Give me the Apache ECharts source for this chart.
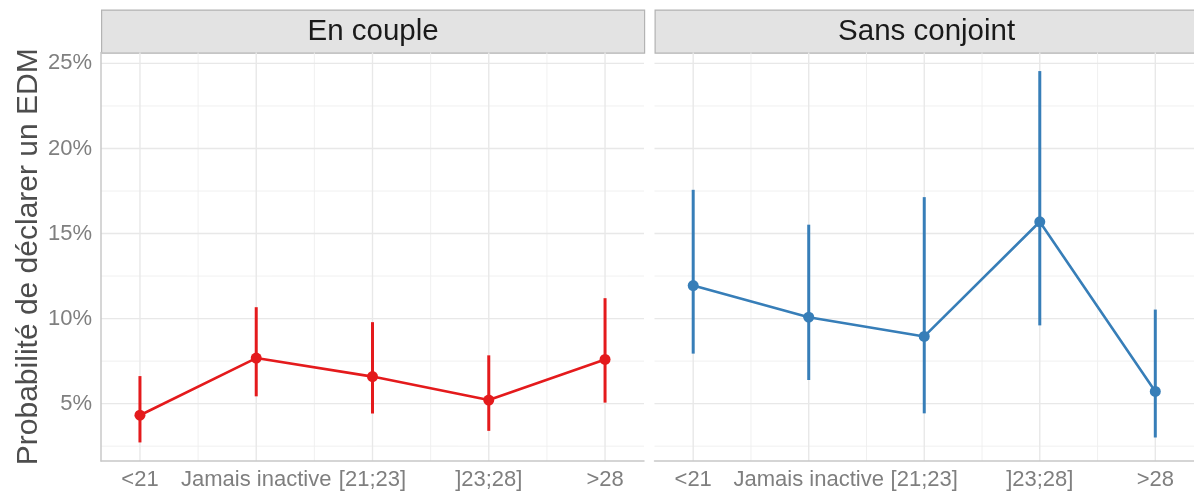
<!DOCTYPE html>
<html>
<head>
<meta charset="utf-8">
<script src="https://cdn.jsdelivr.net/npm/echarts@6/dist/echarts.min.js"></script>
<style>
  html, body { margin: 0; padding: 0; background: #ffffff; }
  #chart { width: 1194px; height: 494px; }
</style>
</head>
<body>
<div id="chart"></div>
<script>
// Categories (x axis) and facet names
const categories = ['<21', 'Jamais inactive', '[21;23]', ']23;28]', '>28'];
const panels = ['En couple', 'Sans conjoint'];

// Estimated probability (%) with its confidence interval, "En couple"
const coupleEst  = [4.32, 7.68, 6.59, 5.21, 7.60];
const coupleLow  = [2.72, 5.43, 4.42, 3.40, 5.06];
const coupleHigh = [6.62, 10.67, 9.79, 7.84, 11.20];

// Same for "Sans conjoint"
const singleEst  = [11.94, 10.08, 8.95, 15.69, 5.72];
const singleLow  = [7.94, 6.39, 4.43, 9.60, 3.01];
const singleHigh = [17.57, 15.52, 17.14, 24.55, 10.53];

// Axis ticks
const yTicks = [5, 10, 15, 20, 25];
const yMinorTicks = [2.5, 7.5, 12.5, 17.5, 22.5];

const colors = ['#E41A1C', '#377EB8'];
const FONT = "'Liberation Sans', Arial, sans-serif";

// Shared y scale with a 5% padding around the whole data range
const allVals = coupleLow.concat(coupleHigh, singleLow, singleHigh);
const dMin = Math.min.apply(null, allVals), dMax = Math.max.apply(null, allVals);
const pad = (dMax - dMin) * 0.05;
const yMin = dMin - pad, yMax = dMax + pad;

// Discrete x positions 1..n with a little room on each side
const xPos = categories.map((c, i) => i + 1);
const xPad = 0.335;
const xMin = 1 - xPad, xMax = categories.length + xPad;
const xMinor = xPos.slice(0, -1).map(v => v + 0.5);

const gridDefs = [
  { left: 101, top: 52.5, width: 543, height: 408.5 },
  { left: 654.5, top: 52.5, width: 543, height: 408.5 }
];

function gridLineSeries(gi, values, vertical, major) {
  return {
    type: 'custom',
    xAxisIndex: gi, yAxisIndex: gi,
    silent: true, z: 0,
    data: values.map(v => vertical ? [v, yMin] : [xMin, v]),
    renderItem: function (params, api) {
      const cs = params.coordSys;
      const p = api.coord([api.value(0), api.value(1)]);
      const shape = vertical
        ? { x1: p[0], y1: cs.y, x2: p[0], y2: cs.y + cs.height }
        : { x1: cs.x, y1: p[1], x2: cs.x + cs.width, y2: p[1] };
      return {
        type: 'line', shape: shape,
        style: { stroke: major ? '#E8E8E8' : '#EEEEEE', lineWidth: major ? 1.4 : 0.9 }
      };
    }
  };
}

function errorBarSeries(gi, low, high, color) {
  return {
    type: 'custom',
    xAxisIndex: gi, yAxisIndex: gi,
    silent: true, z: 3,
    data: xPos.map((x, i) => [x, low[i], high[i]]),
    renderItem: function (params, api) {
      const a = api.coord([api.value(0), api.value(1)]);
      const b = api.coord([api.value(0), api.value(2)]);
      return {
        type: 'line',
        shape: { x1: a[0], y1: a[1], x2: b[0], y2: b[1] },
        style: { stroke: color, lineWidth: 3 }
      };
    }
  };
}

function pointSeries(gi, est, color) {
  return {
    type: 'line',
    xAxisIndex: gi, yAxisIndex: gi,
    data: xPos.map((x, i) => [x, est[i]]),
    symbol: 'circle', symbolSize: 11,
    lineStyle: { color: color, width: 2.6 },
    itemStyle: { color: color },
    z: 4, silent: true
  };
}

const series = [];
[0, 1].forEach(gi => {
  series.push(gridLineSeries(gi, yMinorTicks, false, false));
  series.push(gridLineSeries(gi, xMinor, true, false));
  series.push(gridLineSeries(gi, yTicks, false, true));
  series.push(gridLineSeries(gi, xPos, true, true));
});
series.push(pointSeries(0, coupleEst, colors[0]));
series.push(errorBarSeries(0, coupleLow, coupleHigh, colors[0]));
series.push(pointSeries(1, singleEst, colors[1]));
series.push(errorBarSeries(1, singleLow, singleHigh, colors[1]));

const xAxes = [0, 1].map(gi => ({
  type: 'value', gridIndex: gi, min: xMin, max: xMax,
  axisLine: { show: true, lineStyle: { color: '#C8C8C8', width: 1.5 } },
  axisTick: { show: false },
  splitLine: { show: false },
  axisLabel: {
    customValues: xPos,
    formatter: v => categories[Math.round(v) - 1],
    color: '#7F7F7F', fontSize: 22, fontFamily: FONT, margin: 8
  }
}));

const yAxes = [0, 1].map(gi => ({
  type: 'value', gridIndex: gi, min: yMin, max: yMax,
  axisLine: { show: gi === 0, lineStyle: { color: '#C8C8C8', width: 1.5 } },
  axisTick: { show: false },
  splitLine: { show: false },
  axisLabel: {
    show: gi === 0,
    customValues: yTicks,
    formatter: '{value}%',
    color: '#7F7F7F', fontSize: 22, fontFamily: FONT, margin: 9
  },
  name: gi === 0 ? 'Probabilité de déclarer un EDM' : '',
  nameLocation: 'middle', nameRotate: 90, nameGap: 56,
  nameTextStyle: { color: '#4D4D4D', fontSize: 30, fontFamily: FONT }
}));

// Facet strips
const strips = panels.map((name, i) => ({
  type: 'group',
  left: gridDefs[i].left, top: 9.5,
  children: [
    { type: 'rect', shape: { x: 0, y: 0, width: gridDefs[i].width, height: 43 },
      style: { fill: '#E3E3E3', stroke: '#B3B3B3', lineWidth: 1.2 } },
    { type: 'text', x: gridDefs[i].width / 2, y: 22,
      style: { text: name, fill: '#1A1A1A', font: '29.5px ' + FONT, align: 'center', verticalAlign: 'middle' } }
  ]
}));

const chart = echarts.init(document.getElementById('chart'), null, { renderer: 'canvas' });
chart.setOption({
  animation: false,
  backgroundColor: '#ffffff',
  grid: gridDefs,
  xAxis: xAxes,
  yAxis: yAxes,
  series: series,
  graphic: strips
});
</script>
</body>
</html>
